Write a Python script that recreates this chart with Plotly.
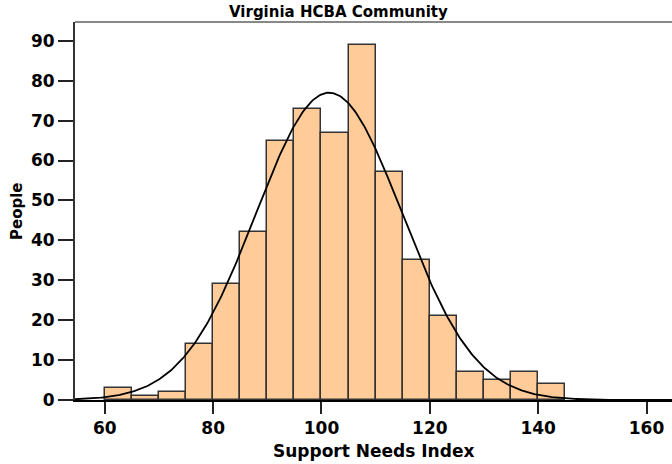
import numpy as np
import plotly.graph_objects as go

bin_starts = [60, 65, 70, 75, 80, 85, 90, 95, 100, 105, 110, 115, 120, 125, 130, 135, 140]
counts = [3, 1, 2, 14, 29, 42, 65, 73, 67, 89, 57, 35, 21, 7, 5, 7, 4]
bin_width = 5
fit_mean = 101.4
fit_sd = 13.5
x_ticks = [60, 80, 100, 120, 140, 160]
y_ticks = [0, 10, 20, 30, 40, 50, 60, 70, 80, 90]

FONT = "DejaVu Sans"
n_total = sum(counts)
xs = np.linspace(54.5, 164.7, 400)
ys = n_total * bin_width * np.exp(-0.5 * ((xs - fit_mean) / fit_sd) ** 2) / (fit_sd * np.sqrt(2 * np.pi))

fig = go.Figure()
fig.add_trace(go.Bar(
    x=[s + bin_width / 2 for s in bin_starts], y=counts, width=bin_width,
    marker=dict(color="#FFCC99", line=dict(color="#333333", width=1.5)),
    showlegend=False, hoverinfo="skip"))
fig.add_trace(go.Scatter(x=xs, y=ys, mode="lines",
    line=dict(color="black", width=1.8), showlegend=False, hoverinfo="skip"))

fig.update_layout(
    width=672, height=464,
    margin=dict(l=75, r=0, t=22, b=64),
    paper_bgcolor="white", plot_bgcolor="white",
    bargap=0,
    font=dict(family=FONT, color="black"),
    xaxis=dict(range=[54.5, 164.7], tickvals=x_ticks, ticks="outside", ticklen=12,
               tickwidth=2, tickcolor="#222222", showline=True, linecolor="black",
               linewidth=2, showgrid=False, zeroline=False,
               tickfont=dict(family=FONT, size=17, color="black", weight="bold")),
    yaxis=dict(range=[0, 94.7], tickvals=y_ticks, ticks="outside", ticklen=15,
               tickwidth=2, tickcolor="#222222", showline=True, linecolor="#333333",
               linewidth=2, showgrid=False, zeroline=False,
               tickfont=dict(family=FONT, size=17, color="black", weight="bold")),
    shapes=[dict(type="line", xref="paper", yref="paper", x0=0, x1=1, y0=1, y1=1,
                 line=dict(color="#888888", width=2))],
    annotations=[
        dict(text="<b>Virginia HCBA Community</b>", xref="paper", yref="paper",
             x=0.441, y=1, yanchor="bottom", yshift=-1, showarrow=False,
             font=dict(family=FONT, size=15, color="black")),
        dict(text="<b>Support Needs Index</b>", xref="paper", yref="paper",
             x=0.5, y=0, yanchor="top", yshift=-39, showarrow=False,
             font=dict(family=FONT, size=17, color="black")),
        dict(text="<b>People</b>", xref="paper", yref="paper", textangle=-90,
             x=0, xanchor="center", xshift=-58, y=0.5, showarrow=False,
             font=dict(family=FONT, size=15, color="black")),
    ],
)

fig.write_html("out.html", config={"displayModeBar": False},
               post_script="document.body.style.margin='0';document.body.style.overflow='hidden';")
